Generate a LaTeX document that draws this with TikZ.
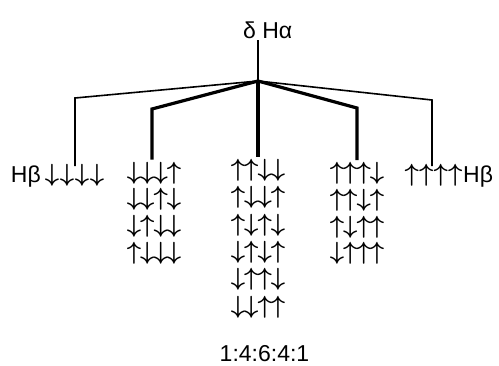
\documentclass[tikz,border=0pt]{standalone}
\usepackage{fontspec}
\setmainfont{Liberation Sans}
\newlength\apitch
\newcommand\U{\makebox[\apitch]{\boldmath$\uparrow$}}
\newcommand\D{\makebox[\apitch]{\boldmath$\downarrow$}}
\begin{document}
\begin{tikzpicture}[x=1pt,y=-1pt,
  lbl/.style={inner sep=0pt,font=\fontsize{23}{27}\selectfont},
  arr/.style={inner sep=0pt,anchor=center,font=\fontsize{27}{30}\selectfont},
  thin/.style={line width=1.6pt,line join=miter},
  thick/.style={line width=3.2pt,line join=miter}]
\useasboundingbox (0,0) rectangle (499,365);
% title
\node[lbl,anchor=base west] (top) at (243,38) {δ Hα};
\coordinate (t0) at (258,40);
\coordinate (b) at (258,81);
% corners
\coordinate (c1) at (75,98);
\coordinate (c2) at (152,109);
\coordinate (c4) at (357,108);
\coordinate (c5) at (432,100);
% column 1
\node[lbl,anchor=base east] (hb1) at (41,182) {Hβ};
\node[arr] (a1) at (74.5,175.5) {\setlength\apitch{15pt}\D\D\D\D};
% column 2
\foreach \t [count=\i from 0] in {\D\D\D\U,\D\D\U\D,\D\U\D\D,\U\D\D\D}
  \node[arr] (a2-\i) at (154,173+26.7*\i) {\setlength\apitch{13.3pt}\t};
% column 3
\foreach \t [count=\i from 0] in {\U\U\D\D,\U\D\D\U,\U\D\U\D,\D\U\D\U,\D\U\U\D,\D\D\U\U}
  \node[arr] (a3-\i) at (258,170+27.4*\i) {\setlength\apitch{13.3pt}\t};
% column 4
\foreach \t [count=\i from 0] in {\U\U\U\D,\U\U\D\U,\U\D\U\U,\D\U\U\U}
  \node[arr] (a4-\i) at (357,173.5+26.7*\i) {\setlength\apitch{13.3pt}\t};
% column 5
\node[arr] (a5) at (433.5,175.5) {\setlength\apitch{14.5pt}\U\U\U\U};
\node[lbl,anchor=base west] (hb5) at (463,182) {Hβ};
% ratio
\node[lbl,anchor=base] (ratio) at (264.5,361) {1:4:6:4:1};
% connectors
\draw[thin] (t0) -- (b);
\draw[thin] (b) -- (c1) -- ([yshift=-2pt]c1 |- a1.north);
\draw[thin] (b) -- (c5) -- ([yshift=-2pt]c5 |- a5.north);
\draw[thick] (b) -- (c2) -- ([yshift=2pt]c2 |- a2-0.north);
\draw[thick] (b) -- (c4) -- ([yshift=2pt]c4 |- a4-0.north);
\draw[thick] (b) -- ([yshift=2pt]b |- a3-0.north);
\end{tikzpicture}
\end{document}
